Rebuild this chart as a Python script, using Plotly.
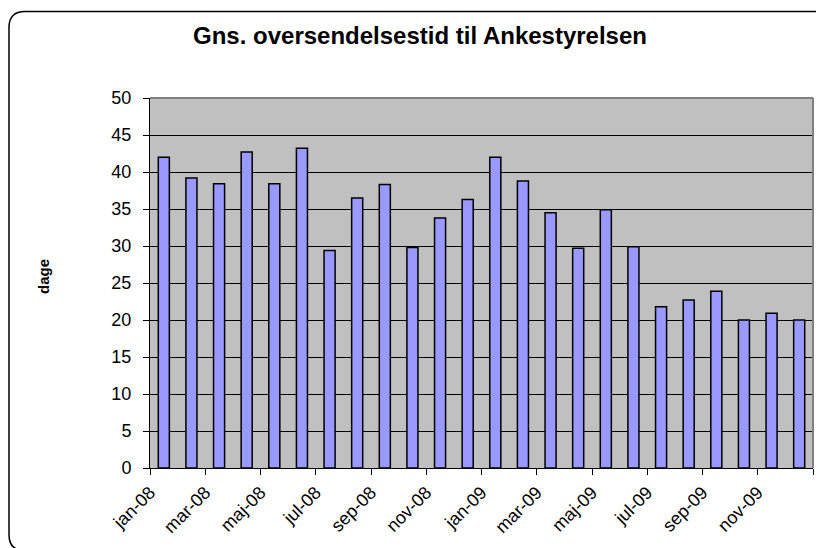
import plotly.graph_objects as go

# Måneder og gennemsnitlig oversendelsestid (dage)
maaneder = ["jan-08", "feb-08", "mar-08", "apr-08", "maj-08", "jun-08",
            "jul-08", "aug-08", "sep-08", "okt-08", "nov-08", "dec-08",
            "jan-09", "feb-09", "mar-09", "apr-09", "maj-09", "jun-09",
            "jul-09", "aug-09", "sep-09", "okt-09", "nov-09", "dec-09"]
dage = [42.0, 39.2, 38.4, 42.7, 38.4, 43.2, 29.4, 36.5, 38.3, 29.8, 33.8, 36.3,
        42.0, 38.8, 34.5, 29.7, 34.9, 29.9, 21.8, 22.7, 23.9, 20.0, 20.9, 20.0]
y_ticks = [0, 5, 10, 15, 20, 25, 30, 35, 40, 45, 50]

# siden har 8px body-margen, så figuren gøres tilsvarende mindre
OFF = 8
W, H = 824 - OFF, 548 - OFF
L, R, T, B = 150 - OFF, 11, 98 - OFF, 78
pw, ph = W - L - R, H - T - B

idx = list(range(len(maaneder)))
# etiketter ved hver anden kategorigrænse
tick_pos = [i - 0.5 for i in idx[::2]] + [len(maaneder) - 0.5]
tick_txt = maaneder[::2] + [""]

fig = go.Figure()
fig.add_trace(go.Bar(
    x=idx, y=dage, width=0.4,
    marker=dict(color="#9999FF", line=dict(color="black", width=1.5)),
    showlegend=False, hoverinfo="skip"
))


# afrundet ramme om hele diagrammet (side-pixels -> paper)
def px(xv):
    return (xv - 150) / pw


def py(yv):
    return (470 - yv) / ph


x0, y0, x1, y1, r = 9, 11, 832, 553, 16
sti = (f"M {px(x0)},{py(y0 + r)} Q {px(x0)},{py(y0)} {px(x0 + r)},{py(y0)} "
       f"L {px(x1 - r)},{py(y0)} Q {px(x1)},{py(y0)} {px(x1)},{py(y0 + r)} "
       f"L {px(x1)},{py(y1 - r)} Q {px(x1)},{py(y1)} {px(x1 - r)},{py(y1)} "
       f"L {px(x0 + r)},{py(y1)} Q {px(x0)},{py(y1)} {px(x0)},{py(y1 - r)} Z")

fig.update_layout(
    width=W, height=H,
    margin=dict(l=L, r=R, t=T, b=B),
    paper_bgcolor="white",
    plot_bgcolor="#C0C0C0",
    font=dict(family="Liberation Sans, Arial", color="black"),
    title=dict(text="<b>Gns. oversendelsestid til Ankestyrelsen</b>",
               x=(420 - OFF) / W, xanchor="center", xref="container",
               y=1 - (36 - OFF) / H, yanchor="middle", yref="container",
               font=dict(size=24, color="black")),
    xaxis=dict(range=[-0.5, len(maaneder) - 0.5], tickmode="array",
               tickvals=tick_pos, ticktext=tick_txt, tickangle=-45,
               ticks="outside", ticklen=6, tickcolor="black",
               showgrid=False, showline=True, linecolor="black", linewidth=1,
               tickfont=dict(size=18), zeroline=False),
    yaxis=dict(range=[0, 50], tickmode="array", tickvals=y_ticks,
               ticks="outside", ticklen=6, tickcolor="black",
               ticklabelstandoff=8,
               showgrid=True, gridcolor="black", gridwidth=1,
               showline=True, linecolor="black", linewidth=1,
               tickfont=dict(size=18), zeroline=False),
    shapes=[
        dict(type="line", xref="paper", yref="paper", x0=0, x1=1, y0=1, y1=1,
             line=dict(color="#808080", width=2)),
        dict(type="line", xref="paper", yref="paper", x0=1, x1=1, y0=0, y1=1,
             line=dict(color="#808080", width=2)),
        dict(type="path", xref="paper", yref="paper", path=sti,
             line=dict(color="black", width=1.5)),
    ],
    annotations=[
        dict(text="<b>dage</b>", xref="paper", yref="paper",
             x=px(43), y=py(278), xanchor="center", yanchor="middle",
             textangle=-90, showarrow=False,
             font=dict(size=15, color="black")),
    ],
)

fig.write_html("out.html")
